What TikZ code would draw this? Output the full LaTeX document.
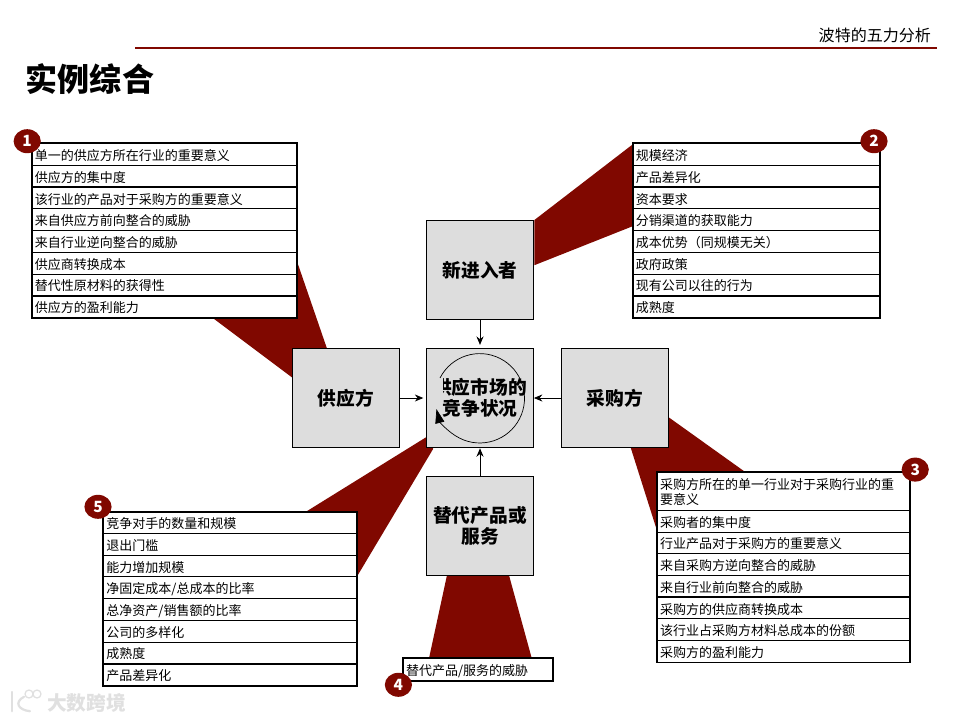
\documentclass[tikz,border=0pt]{standalone}
\usepackage{fontspec}
\setmainfont{Noto Sans CJK SC}
\usetikzlibrary{arrows.meta,shapes.geometric}
\definecolor{fdred}{RGB}{128,8,0}
\definecolor{fdgray}{RGB}{221,221,221}
\definecolor{fdmark}{RGB}{224,224,224}
\tikzset{
  forcebox/.style={draw=black, line width=0.7pt, fill=fdgray, minimum width=2.67cm, minimum height=2.49cm, align=center, font=\fontsize{13.3}{14.8}\selectfont\bfseries},
  rowcell/.style={draw=black, line width=0.6pt, fill=white, minimum height=0.5437cm, text height=9.4pt, inner xsep=2pt, inner ysep=0pt, align=left, font=\fontsize{9.25}{10.7}\selectfont},
  frame/.style={draw=black, line width=1.4pt},
  wedge/.style={fill=fdred, draw=none},
  badge/.style={ellipse, draw=none, fill=fdred, text=white, minimum width=0.68cm, minimum height=0.6cm, inner sep=0pt, font=\fontsize{11}{11}\selectfont\bfseries},
  forcearrow/.style={-{Stealth[length=6pt,width=5pt]}, line width=0.6pt, black}
}
\begin{document}
\begin{tikzpicture}
  \useasboundingbox (0,0) rectangle (24,18);

  % Header
  \draw[fdred, line width=2pt] (3.375,16.8) -- (23.425,16.8);
  \node[anchor=east, inner sep=0pt, font=\fontsize{11.4}{12}\selectfont] (header) at (23.28,17.125) {波特的五力分析};
  \node[anchor=west, inner sep=0pt, font=\fontsize{22.8}{24}\selectfont\bfseries] (title) at (0.64,16.03) {实例综合};

  % Wedges behind the boxes
  \fill[wedge] (7.43,11.45) -- (8.18,9.27) -- (7.32,8.55) -- (5.32,10.05) -- cycle;
  \fill[wedge] (15.83,14.4) -- (13.36,12.5) -- (13.36,11.37) -- (15.83,12.35) -- cycle;
  \fill[wedge] (16.7,7.58) -- (18.63,6.2) -- (16.42,4.75) -- (15.77,6.8) -- cycle;
  \fill[wedge] (11.17,3.6) -- (12.73,3.6) -- (13.3,1.52) -- (10.72,1.52) -- cycle;
  \fill[wedge] (10.67,7.08) -- (10.83,6.78) -- (8.92,3.58) -- (7.67,5.22) -- cycle;

  % Five forces
  \node[forcebox] (entrant) at (12.0,11.25) {新进入者};
  \node[forcebox] (supplier) at (8.65,8.05) {供应方};
  \node[forcebox] (market) at (12.0,8.05) {供应市场的\\竞争状况};
  \node[forcebox] (buyer) at (15.37,8.05) {采购方};
  \node[forcebox] (substitute) at (12.0,4.85) {替代产品或\\服务};

  \draw[forcearrow, shorten >=2pt] (entrant.south) -- (market.north);
  \draw[forcearrow, shorten >=2pt] (supplier.east) -- (market.west);
  \draw[forcearrow] (buyer.west) -- (market.east);
  \draw[forcearrow] (substitute.north) -- (market.south);

  % Rivalry loop
  \fill[fdgray] (10.75,8.85) rectangle (11.08,8.05);
  \draw[-{Triangle[length=10pt,width=6.5pt]}, line width=0.5pt] (11.0,8.55) arc[start angle=153, end angle=-166, radius=1.117cm];

  % Table 1
  \node[rowcell, text width=6.48cm] (sup1) at (4.11,14.14) {单一的供应方所在行业的重要意义};
  \node[rowcell, text width=6.48cm] (sup2) at (4.11,13.6) {供应方的集中度};
  \node[rowcell, text width=6.48cm] (sup3) at (4.11,13.05) {该行业的产品对于采购方的重要意义};
  \node[rowcell, text width=6.48cm] (sup4) at (4.11,12.51) {来自供应方前向整合的威胁};
  \node[rowcell, text width=6.48cm] (sup5) at (4.11,11.97) {来自行业逆向整合的威胁};
  \node[rowcell, text width=6.48cm] (sup6) at (4.11,11.42) {供应商转换成本};
  \node[rowcell, text width=6.48cm] (sup7) at (4.11,10.88) {替代性原材料的获得性};
  \node[rowcell, text width=6.48cm] (sup8) at (4.11,10.33) {供应方的盈利能力};
  \draw[frame] (sup1.north west) rectangle (sup8.south east);
  \node[badge] (badge1) at (0.68,14.47) {1};

  % Table 2
  \node[rowcell, text width=6.03cm] (ent1) at (18.91,14.14) {规模经济};
  \node[rowcell, text width=6.03cm] (ent2) at (18.91,13.6) {产品差异化};
  \node[rowcell, text width=6.03cm] (ent3) at (18.91,13.05) {资本要求};
  \node[rowcell, text width=6.03cm] (ent4) at (18.91,12.51) {分销渠道的获取能力};
  \node[rowcell, text width=6.03cm] (ent5) at (18.91,11.97) {成本优势（同规模无关）};
  \node[rowcell, text width=6.03cm] (ent6) at (18.91,11.42) {政府政策};
  \node[rowcell, text width=6.03cm] (ent7) at (18.91,10.88) {现有公司以往的行为};
  \node[rowcell, text width=6.03cm] (ent8) at (18.91,10.33) {成熟度};
  \draw[frame] (ent1.north west) rectangle (ent8.south east);
  \node[badge] (badge2) at (21.85,14.47) {2};

  % Table 3
  \node[rowcell, text width=6.18cm, minimum height=0.95cm] (buy1) at (19.59,5.72) {采购方所在的单一行业对于采购行业的重\\要意义};
  \node[rowcell, text width=6.18cm] (buy2) at (19.59,4.97) {采购者的集中度};
  \node[rowcell, text width=6.18cm] (buy3) at (19.59,4.43) {行业产品对于采购方的重要意义};
  \node[rowcell, text width=6.18cm] (buy4) at (19.59,3.89) {来自采购方逆向整合的威胁};
  \node[rowcell, text width=6.18cm] (buy5) at (19.59,3.35) {来自行业前向整合的威胁};
  \node[rowcell, text width=6.18cm] (buy6) at (19.59,2.8) {采购方的供应商转换成本};
  \node[rowcell, text width=6.18cm] (buy7) at (19.59,2.26) {该行业占采购方材料总成本的份额};
  \node[rowcell, text width=6.18cm] (buy8) at (19.59,1.72) {采购方的盈利能力};
  \draw[frame] (buy1.north west) rectangle (buy8.south east);
  \node[badge] (badge3) at (22.88,6.26) {3};

  % Table 4
  \node[rowcell, text width=3.6cm] (subs1) at (11.95,1.26) {替代产品/服务的威胁};
  \draw[frame] (subs1.north west) rectangle (subs1.south east);
  \node[badge] (badge4) at (9.96,0.88) {4};

  % Table 5
  \node[rowcell, text width=6.18cm] (riv1) at (5.75,4.93) {竞争对手的数量和规模};
  \node[rowcell, text width=6.18cm] (riv2) at (5.75,4.39) {退出门槛};
  \node[rowcell, text width=6.18cm] (riv3) at (5.75,3.85) {能力增加规模};
  \node[rowcell, text width=6.18cm] (riv4) at (5.75,3.31) {净固定成本/总成本的比率};
  \node[rowcell, text width=6.18cm] (riv5) at (5.75,2.76) {总净资产/销售额的比率};
  \node[rowcell, text width=6.18cm] (riv6) at (5.75,2.22) {公司的多样化};
  \node[rowcell, text width=6.18cm] (riv7) at (5.75,1.68) {成熟度};
  \node[rowcell, text width=6.18cm] (riv8) at (5.75,1.13) {产品差异化};
  \draw[frame] (riv1.north west) rectangle (riv8.south east);
  \node[badge] (badge5) at (2.45,5.33) {5};

  % Watermark
  \node[anchor=west, inner sep=0pt, text=fdmark, font=\fontsize{14}{14}\selectfont\bfseries] (mark) at (1.17,0.42) {大数跨境};
  \draw[fdmark, line width=1.6pt, line cap=round] (0.3,0.7) -- (0.3,0.22);
  \draw[fdmark, line width=1.6pt, line cap=round] (0.6,0.58) .. controls (0.35,0.45) and (0.45,0.25) .. (0.75,0.22);
  \draw[fdmark, line width=0.9pt] (0.725,0.65) circle (0.1);
  \draw[fdmark, line width=0.9pt] (0.925,0.65) circle (0.1);
\end{tikzpicture}
\end{document}
